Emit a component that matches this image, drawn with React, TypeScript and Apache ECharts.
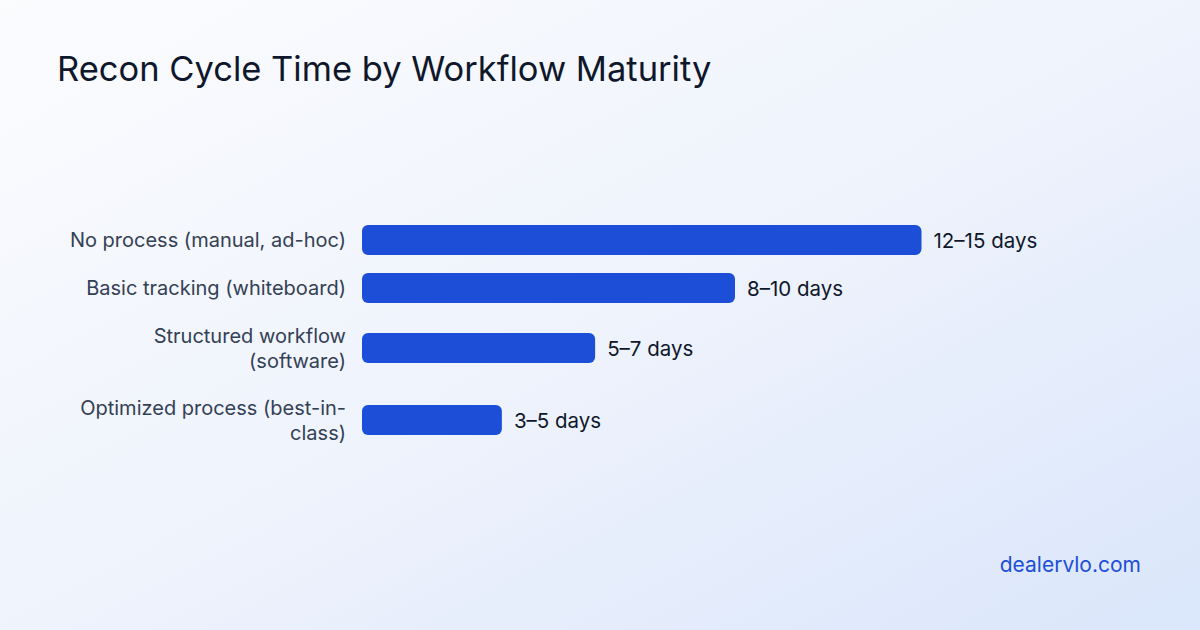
import React, { useEffect, useRef } from "react";
import * as echarts from "echarts";

const titleText = "Recon Cycle Time by Workflow Maturity";
const categories = [
  "No process (manual, ad-hoc)",
  "Basic tracking (whiteboard)",
  "Structured workflow\n(software)",
  "Optimized process (best-in-\nclass)",
];
const minDays = [12, 8, 5, 3];
const rangeLabels = ["12–15 days", "8–10 days", "5–7 days", "3–5 days"];
const watermark = "dealervlo.com";

// layout (pixels)
const rowCenters = [240, 288, 348, 420];
const BAR_H = 30;
const GRID_LEFT = 362;
const GRID_WIDTH = 746;
const X_MAX = 16;

export default function App() {
  const ref = useRef<HTMLDivElement>(null);
  useEffect(() => {
    if (!ref.current) return;
    const chart = echarts.init(ref.current, undefined, { renderer: "svg" });
    const font = "Inter, 'Noto Sans', sans-serif";
    const grids = rowCenters.map((c) => ({
      left: GRID_LEFT,
      width: GRID_WIDTH,
      top: c - BAR_H / 2,
      height: BAR_H,
      containLabel: false,
    }));
    const xAxes = rowCenters.map((_, i) => ({
      type: "value",
      gridIndex: i,
      min: 0,
      max: X_MAX,
      show: false,
    }));
    const yAxes = rowCenters.map((_, i) => ({
      type: "category",
      gridIndex: i,
      data: [categories[i]],
      axisLine: { show: false },
      axisTick: { show: false },
      axisLabel: {
        show: true,
        margin: 16,
        fontSize: 20,
        lineHeight: 25,
        color: "#334155",
        fontFamily: font,
        align: "right",
      },
    }));
    const series = rowCenters.map((_, i) => ({
      type: "bar",
      xAxisIndex: i,
      yAxisIndex: i,
      data: [minDays[i]],
      barWidth: BAR_H,
      itemStyle: { color: "#1d4ed8", borderRadius: 6 },
      label: {
        show: true,
        position: "right",
        distance: 12,
        formatter: () => rangeLabels[i],
        fontSize: 20.5,
        color: "#0f172a",
        fontFamily: font,
      },
    }));
    chart.setOption({
      animation: false,
      backgroundColor: new echarts.graphic.LinearGradient(0, 0, 1, 1, [
        { offset: 0, color: "#fbfcfe" },
        { offset: 0.5, color: "#eff3fc" },
        { offset: 1, color: "#dae6fb" },
      ]),
      title: {
        text: titleText,
        left: 57,
        top: 51,
        padding: 0,
        textStyle: {
          fontSize: 34.5,
          fontWeight: "normal",
          color: "#0f172a",
          fontFamily: font,
        },
      },
      grid: grids,
      xAxis: xAxes,
      yAxis: yAxes,
      series,
      graphic: [
        {
          type: "text",
          right: 59,
          top: 554,
          style: {
            text: watermark,
            fontSize: 21,
            fill: "#1d4ed8",
            fontFamily: font,
          },
        },
      ],
    });
    return () => chart.dispose();
  }, []);
  return (
    <div
      ref={ref}
      style={{ position: "fixed", left: 0, top: 0, width: 1200, height: 630 }}
    />
  );
}
